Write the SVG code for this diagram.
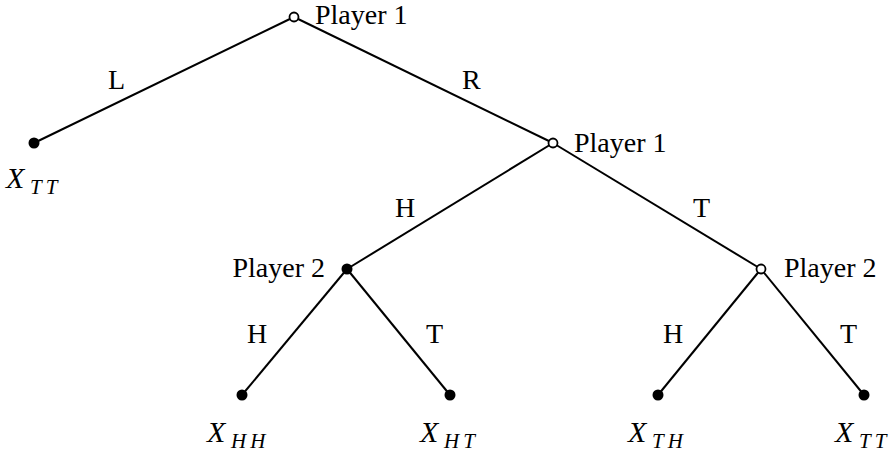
<svg xmlns="http://www.w3.org/2000/svg" width="893" height="454" viewBox="0 0 893 454">
<style>
text{font-family:"Liberation Serif","Times New Roman",serif;font-size:28px;fill:#000}
.m{font-style:italic;font-size:30px}
.s{font-style:italic;font-size:21px;letter-spacing:4px}
.e{stroke:#000;stroke-width:2;fill:none}
.o{fill:#fff;stroke:#000;stroke-width:1.8}
.f{fill:#000}
</style>
<rect width="893" height="454" fill="#fff"/>
<g id="connectors">
<line class="e" x1="294" y1="17" x2="34" y2="143"/>
<line class="e" x1="294" y1="17" x2="553" y2="143"/>
<line class="e" x1="553" y1="143" x2="347" y2="269"/>
<line class="e" x1="553" y1="143" x2="761" y2="269"/>
<line class="e" x1="347" y1="269" x2="242" y2="395"/>
<line class="e" x1="347" y1="269" x2="450" y2="395"/>
<line class="e" x1="761" y1="269" x2="658" y2="395"/>
<line class="e" x1="761" y1="269" x2="864" y2="395"/>
<text x="108" y="89">L</text>
<text x="462" y="89">R</text>
<text x="395" y="217">H</text>
<text x="693" y="217">T</text>
<text x="247" y="343">H</text>
<text x="426" y="343">T</text>
<text x="663" y="343">H</text>
<text x="840" y="343">T</text>
</g>
<g id="root"><circle class="o" cx="294" cy="17" r="4.5"/><text x="315" y="24">Player 1</text></g>
<g id="leafL"><circle class="f" cx="34" cy="143" r="5.5"/><text class="m" x="6" y="188">X</text><text class="s" x="30" y="194">TT</text></g>
<g id="nodeR"><circle class="o" cx="553" cy="143" r="4.5"/><text x="574" y="152">Player 1</text></g>
<g id="p2left"><circle class="f" cx="347" cy="269" r="5.5"/><text x="325" y="277" text-anchor="end">Player 2</text></g>
<g id="p2right"><circle class="o" cx="761" cy="269" r="4.5"/><text x="784" y="277">Player 2</text></g>
<g id="leafHH"><circle class="f" cx="242" cy="395" r="5.5"/><text class="m" x="207" y="442">X</text><text class="s" x="231" y="448">HH</text></g>
<g id="leafHT"><circle class="f" cx="450" cy="395" r="5.5"/><text class="m" x="420" y="442">X</text><text class="s" x="444" y="448">HT</text></g>
<g id="leafTH"><circle class="f" cx="658" cy="395" r="5.5"/><text class="m" x="628" y="442">X</text><text class="s" x="652" y="448">TH</text></g>
<g id="leafTT"><circle class="f" cx="864" cy="395" r="5.5"/><text class="m" x="835" y="442">X</text><text class="s" x="859" y="448">TT</text></g>
</svg>
